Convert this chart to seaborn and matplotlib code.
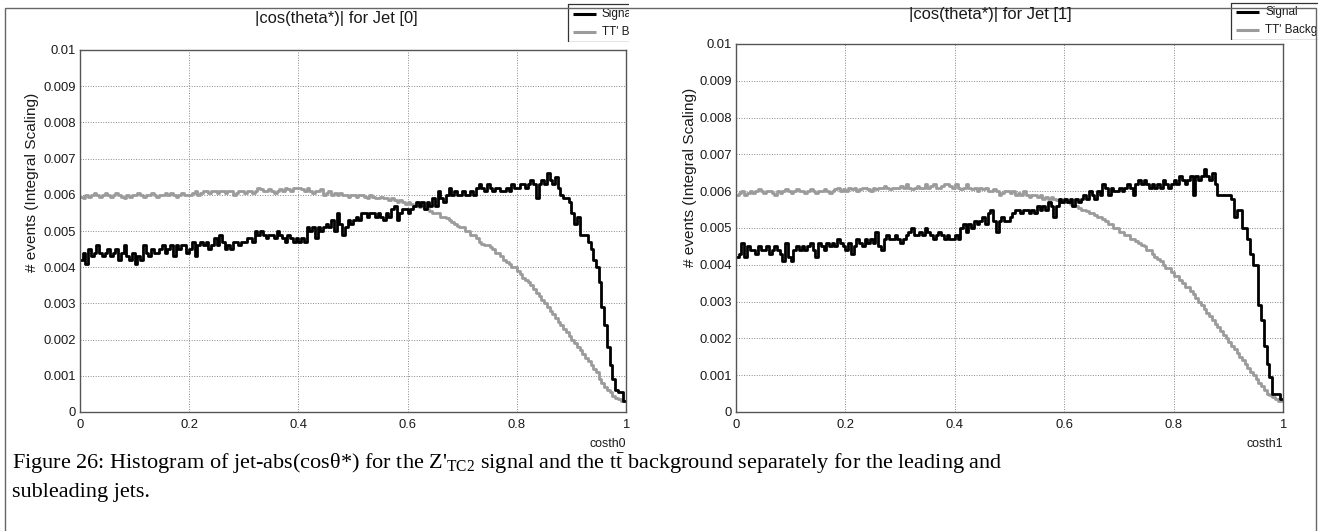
import numpy as np
import pandas as pd
import matplotlib
matplotlib.use("Agg")
import matplotlib.pyplot as plt
import seaborn as sns
from matplotlib.patches import Rectangle
from matplotlib import font_manager

# ---------------- data (bin heights, 200 bins on [0,1]) ----------------
sig0 = [
    0.0042,0.0044,0.0041,0.0045,0.0043,0.0044,0.0046,0.0044,0.0043,0.0044,0.0045,0.0043,0.0044,0.0045,0.0042,0.0044,0.0046,0.0043,0.0042,0.0044,
    0.0041,0.0043,0.0042,0.0046,0.0044,0.0043,0.0045,0.0044,0.0044,0.0045,0.0046,0.0044,0.0045,0.0046,0.0043,0.0046,0.0045,0.0046,0.0046,0.0044,
    0.0045,0.0047,0.0043,0.0046,0.0047,0.0046,0.0047,0.0045,0.0046,0.0048,0.0046,0.0049,0.0047,0.0045,0.0046,0.0045,0.0047,0.0047,0.0046,0.0047,
    0.0047,0.0048,0.0048,0.0047,0.0050,0.0049,0.0050,0.0049,0.0048,0.0049,0.0049,0.0048,0.0050,0.0049,0.0048,0.0047,0.0049,0.0048,0.0047,0.0048,
    0.0047,0.0048,0.0047,0.0051,0.0050,0.0051,0.0048,0.0051,0.0050,0.0051,0.0052,0.0051,0.0053,0.0050,0.0055,0.0052,0.0049,0.0051,0.0053,0.0052,
    0.0053,0.0054,0.0053,0.0055,0.0055,0.0054,0.0055,0.0055,0.0054,0.0055,0.0054,0.0053,0.0055,0.0054,0.0056,0.0057,0.0053,0.0055,0.0056,0.0056,
    0.0055,0.0056,0.0057,0.0058,0.0057,0.0058,0.0056,0.0058,0.0057,0.0059,0.0057,0.0061,0.0059,0.0058,0.0060,0.0062,0.0060,0.0061,0.0060,0.0060,
    0.0061,0.0060,0.0060,0.0061,0.0060,0.0062,0.0063,0.0062,0.0061,0.0063,0.0062,0.0061,0.0062,0.0062,0.0061,0.0061,0.0062,0.0061,0.0063,0.0062,
    0.0062,0.0063,0.0063,0.0062,0.0063,0.0064,0.0063,0.0059,0.0063,0.0064,0.0063,0.0066,0.0064,0.0063,0.0065,0.0062,0.0060,0.0059,0.0059,0.0058,
    0.0055,0.0052,0.0054,0.0049,0.0049,0.0049,0.0047,0.0045,0.0042,0.0040,0.0036,0.0029,0.0024,0.0018,0.0013,0.0009,0.0006,0.00055,0.00055,0.0003,
]
bg0 = [
    0.00595,0.0059,0.0060,0.00595,0.0060,0.00605,0.0060,0.00595,0.0060,0.00605,0.0060,0.00595,0.0060,0.00605,0.0060,0.00595,0.0059,0.0060,0.00595,0.0060,
    0.0060,0.00605,0.0060,0.00595,0.0060,0.0060,0.00605,0.0060,0.00595,0.0060,0.0060,0.00605,0.0060,0.00605,0.0060,0.00595,0.0060,0.00605,0.0060,0.0060,
    0.0060,0.00605,0.0061,0.0060,0.00605,0.0061,0.0061,0.00605,0.0061,0.0061,0.00605,0.0061,0.0061,0.00605,0.0061,0.0061,0.0060,0.00605,0.0061,0.0061,
    0.00605,0.0061,0.0061,0.00605,0.0061,0.0062,0.00615,0.0061,0.0061,0.00615,0.0061,0.00605,0.0061,0.00615,0.0061,0.0062,0.00615,0.0061,0.0062,0.0062,
    0.0062,0.00615,0.0061,0.0062,0.0061,0.00605,0.0061,0.0061,0.00615,0.0060,0.00605,0.0061,0.0060,0.00605,0.0060,0.00605,0.0060,0.0060,0.00595,0.0060,
    0.0060,0.00595,0.0060,0.0060,0.00595,0.0059,0.0060,0.00595,0.0059,0.0059,0.00595,0.0059,0.0059,0.00585,0.0059,0.00585,0.0058,0.00585,0.0058,0.00575,
    0.0058,0.00575,0.0057,0.0057,0.00565,0.0057,0.0056,0.0056,0.00555,0.0055,0.0055,0.0055,0.0054,0.0054,0.00535,0.0053,0.00525,0.0052,0.00515,0.0051,
    0.0051,0.0050,0.0050,0.0049,0.0049,0.0048,0.0047,0.00465,0.0046,0.0046,0.00455,0.0045,0.0044,0.0044,0.0043,0.0042,0.00415,0.0041,0.0040,0.0040,
    0.0039,0.0038,0.0037,0.00365,0.0036,0.0035,0.0034,0.0033,0.0032,0.0031,0.0030,0.0029,0.0028,0.0027,0.0026,0.0025,0.0024,0.0023,0.0022,0.0021,
    0.0020,0.0019,0.0018,0.0017,0.0016,0.0015,0.0014,0.0013,0.0012,0.0011,0.0009,0.0008,0.0007,0.0006,0.00055,0.00045,0.0004,0.00035,0.0003,0.0003,
]
sig1 = [
    0.0042,0.0043,0.0046,0.0042,0.0045,0.0044,0.0044,0.0043,0.0045,0.0044,0.0044,0.0045,0.0043,0.0044,0.0045,0.0044,0.0043,0.0041,0.0046,0.0042,
    0.0041,0.0044,0.0045,0.0044,0.0045,0.0044,0.0045,0.0046,0.0044,0.0042,0.0046,0.0045,0.0044,0.0046,0.0045,0.0046,0.0045,0.0047,0.0046,0.0045,
    0.0044,0.0046,0.0043,0.0045,0.0047,0.0046,0.0045,0.0047,0.0046,0.0047,0.0046,0.0049,0.0045,0.0044,0.0047,0.0048,0.0047,0.0047,0.0048,0.0047,
    0.0046,0.0047,0.0048,0.0049,0.0050,0.0048,0.0048,0.0049,0.0048,0.0050,0.0049,0.0048,0.0047,0.0048,0.0049,0.0048,0.0047,0.0048,0.0047,0.0047,
    0.0048,0.0047,0.0050,0.0051,0.0049,0.0051,0.0050,0.0052,0.0051,0.0052,0.0053,0.0051,0.0054,0.0055,0.0052,0.0049,0.0052,0.0053,0.0052,0.0052,
    0.0053,0.0054,0.0055,0.0055,0.0054,0.0055,0.0055,0.0054,0.0055,0.0054,0.0056,0.0055,0.0056,0.0055,0.0057,0.0056,0.0053,0.0056,0.0058,0.0057,
    0.0058,0.0057,0.0058,0.0056,0.0058,0.0057,0.0058,0.0059,0.0058,0.0060,0.0059,0.0058,0.0060,0.0059,0.0062,0.0061,0.0059,0.0061,0.0060,0.0060,
    0.0061,0.0060,0.0061,0.0062,0.0061,0.0059,0.0062,0.0063,0.0062,0.0063,0.0062,0.0061,0.0062,0.0061,0.0062,0.0061,0.0063,0.0062,0.0061,0.0062,
    0.0063,0.0062,0.0064,0.0063,0.0062,0.0063,0.0064,0.0059,0.0064,0.0063,0.0064,0.0066,0.0064,0.0063,0.0065,0.0062,0.0059,0.0059,0.0059,0.0059,
    0.0059,0.0058,0.0053,0.0055,0.0055,0.0050,0.0050,0.0047,0.0043,0.0040,0.0040,0.0029,0.0025,0.0018,0.0013,0.00095,0.0005,0.0005,0.0005,0.00035,
]
bg1 = [
    0.0059,0.00595,0.0060,0.0059,0.00595,0.0060,0.00595,0.0060,0.00605,0.0060,0.00595,0.0060,0.0060,0.00595,0.0059,0.0060,0.00595,0.0060,0.00605,0.0060,
    0.00595,0.0060,0.00605,0.0060,0.0060,0.00595,0.0060,0.00605,0.0060,0.00595,0.0060,0.0060,0.00605,0.0060,0.00595,0.0060,0.00605,0.0061,0.0060,0.00605,
    0.0060,0.0061,0.00605,0.0061,0.0060,0.00605,0.0061,0.0061,0.00605,0.0060,0.0061,0.00605,0.0061,0.0061,0.00615,0.0061,0.00605,0.0061,0.0061,0.0061,
    0.00615,0.0061,0.0062,0.0061,0.00605,0.0061,0.00615,0.0061,0.0061,0.0062,0.0061,0.00615,0.0062,0.0061,0.0061,0.00615,0.0062,0.0062,0.00615,0.0061,
    0.0062,0.0061,0.00605,0.0061,0.0062,0.0061,0.00605,0.0061,0.0060,0.0061,0.00605,0.0061,0.0060,0.0060,0.00605,0.0060,0.0059,0.00595,0.0060,0.0060,
    0.00595,0.0060,0.0059,0.00595,0.0059,0.0060,0.0059,0.00585,0.0059,0.0059,0.00585,0.0059,0.0058,0.00585,0.0058,0.00585,0.0058,0.00575,0.0058,0.0057,
    0.0057,0.0057,0.00565,0.0056,0.0056,0.00555,0.0055,0.0055,0.00545,0.0054,0.0054,0.00535,0.0053,0.0053,0.00525,0.0052,0.0051,0.0051,0.0050,0.0050,
    0.0049,0.0049,0.0048,0.0048,0.0047,0.0047,0.00465,0.0046,0.00455,0.0045,0.0044,0.0044,0.0043,0.0042,0.00415,0.0041,0.0040,0.0039,0.0039,0.0038,
    0.0037,0.0037,0.0036,0.0035,0.0034,0.0034,0.0033,0.0032,0.0031,0.0030,0.0029,0.0028,0.0027,0.0026,0.0025,0.0024,0.0023,0.0022,0.0021,0.0020,
    0.0019,0.0018,0.0017,0.0016,0.0015,0.0014,0.0013,0.0012,0.0011,0.0010,0.0009,0.0008,0.0007,0.0006,0.0005,0.00045,0.0004,0.00035,0.0003,0.0003,
]

titles = ["|cos(theta*)| for Jet [0]", "|cos(theta*)| for Jet [1]"]
xlabels = ["costh0", "costh1"]
ylabel = "# events (Integral Scaling)"
legend_labels = ["Signal", "TT' Background"]
xtick_labels = ["0", "0.2", "0.4", "0.6", "0.8", "1"]
ytick_labels = ["0", "0.001", "0.002", "0.003", "0.004", "0.005",
                "0.006", "0.007", "0.008", "0.009", "0.01"]
caption1 = ("Figure 26: Histogram of jet-abs(cos\u03b8*) for the Z'$_{\\mathrm{TC2}}$ signal and the "
            "t$\\bar{\\mathrm{t}}$ background separately for the leading and")
caption2 = "subleading jets."

# ---------------- style ----------------
sns.set_style("white")
names = {f.name for f in font_manager.fontManager.ttflist}
narrow = 'Liberation Sans Narrow' in names
sf = 1.0 if narrow else 0.85   # shrink sizes if the narrow face is missing
plt.rcParams['font.family'] = (['Liberation Sans Narrow'] if narrow else []) + ['Liberation Sans', 'DejaVu Sans']
plt.rcParams['mathtext.fontset'] = 'custom'
plt.rcParams['mathtext.rm'] = 'Liberation Serif'
plt.rcParams['mathtext.it'] = 'Liberation Serif:italic'
plt.rcParams['mathtext.bf'] = 'Liberation Serif:bold'

W, H = 1323, 531
fig = plt.figure(figsize=(W / 100, H / 100), dpi=100)
fig.patch.set_facecolor('white')


def rect(l, t, r, b):
    return [l / W, 1 - b / H, (r - l) / W, (b - t) / H]


nbins = len(sig0)
centers = (np.arange(nbins) + 0.5) / nbins

SIG_C = 'black'
BG_C = '#9b9b9b'
FRAME_C = '#555555'
TXT_C = '#1a1a1a'

panels = [
    dict(ax=(80, 50, 626, 412), sig=sig0, bg=bg0, title=(336, 18), ylab=(32, 182),
         leg=(567, 3, 629, 42)),
    dict(ax=(736, 44, 1283, 412), sig=sig1, bg=bg1, title=(990, 15), ylab=(690, 177),
         leg=(1230, 2, 1318, 40)),
]

for i, p in enumerate(panels):
    l, t, r, b = p['ax']
    ax = fig.add_axes(rect(l, t, r, b))
    df = pd.DataFrame({'x': centers, 'sig': p['sig'], 'bg': p['bg']})
    sns.histplot(data=df, x='x', weights='bg', bins=nbins, binrange=(0, 1),
                 element='step', fill=False, color=BG_C, linewidth=2.0, ax=ax)
    sns.histplot(data=df, x='x', weights='sig', bins=nbins, binrange=(0, 1),
                 element='step', fill=False, color=SIG_C, linewidth=2.0, ax=ax)
    ax.set_xlim(0, 1)
    ax.set_ylim(0, 0.01)
    ax.set_xlabel('')
    ax.set_ylabel('')
    ax.set_xticks(np.linspace(0, 1, len(xtick_labels)))
    ax.set_xticklabels(xtick_labels)
    ax.set_xticks(np.arange(0, 1.0001, 0.05), minor=True)
    ax.set_yticks(np.linspace(0, 0.01, len(ytick_labels)))
    ax.set_yticklabels(ytick_labels)
    ax.set_yticks(np.arange(0, 0.010001, 0.0002), minor=True)
    ax.tick_params(which='both', direction='in', top=False, right=False,
                   color=FRAME_C, width=0.8, labelsize=11 * sf, labelcolor=TXT_C)
    ax.tick_params(axis='x', pad=5)
    ax.tick_params(axis='y', pad=3)
    ax.tick_params(which='major', length=11)
    ax.tick_params(which='minor', length=6)
    ax.grid(True, which='major', color='#888888', linestyle=(0, (1, 1.6)), linewidth=0.7)
    for s in ax.spines.values():
        s.set_visible(True)
        s.set_color(FRAME_C)
        s.set_linewidth(1.0)

    fig.text(p['title'][0] / W, 1 - p['title'][1] / H, titles[i], ha='center', va='center',
             fontsize=14 * sf, color=TXT_C)
    fig.text(p['ylab'][0] / W, 1 - p['ylab'][1] / H, ylabel, rotation=90,
             ha='center', va='center', fontsize=13 * sf, color=TXT_C)
    fig.text(r / W, 1 - 444 / H, xlabels[i], ha='right', va='center', fontsize=10.5 * sf,
             color=TXT_C)

    # ROOT-style legend box, clipped by pad edge
    ll, lt, lr, lb = p['leg']
    lax = fig.add_axes(rect(ll, lt, lr, lb))
    lax.set_xlim(0, lr - ll)
    lax.set_ylim(lb - lt, 0)
    lax.axis('off')
    wpx, hpx = lr - ll, lb - lt
    lax.plot([0.5, wpx + 5], [0.5, 0.5], color='#333333', lw=0.9, clip_on=True)
    lax.plot([0.5, 0.5], [0.5, hpx - 0.5], color='#333333', lw=0.9, clip_on=True)
    lax.plot([0.5, wpx + 5], [hpx - 0.5, hpx - 0.5], color='#333333', lw=0.9, clip_on=True)
    for k, (lab, col) in enumerate(zip(legend_labels, [SIG_C, BG_C])):
        yy = hpx * (0.27 + 0.47 * k)
        lax.plot([6, 29], [yy, yy], color=col, lw=2.2, solid_capstyle='butt')
        lax.text(35, yy, lab, va='center', ha='left', fontsize=10 * sf, clip_on=True,
                 color=TXT_C)

# outer frame
fig.add_artist(Rectangle((5 / W, -0.01), (1316 - 5) / W, 1.01 - 8 / H,
                         transform=fig.transFigure, fill=False,
                         edgecolor='#666666', linewidth=1.0))

cap_font = ['Liberation Serif', 'DejaVu Serif']
fig.text(12 / W, 1 - 469 / H, caption1, ha='left', va='baseline', fontsize=16,
         family=cap_font, color='black')
fig.text(12 / W, 1 - 497 / H, caption2, ha='left', va='baseline', fontsize=16,
         family=cap_font, color='black')

fig.savefig('out.png', dpi=100)
